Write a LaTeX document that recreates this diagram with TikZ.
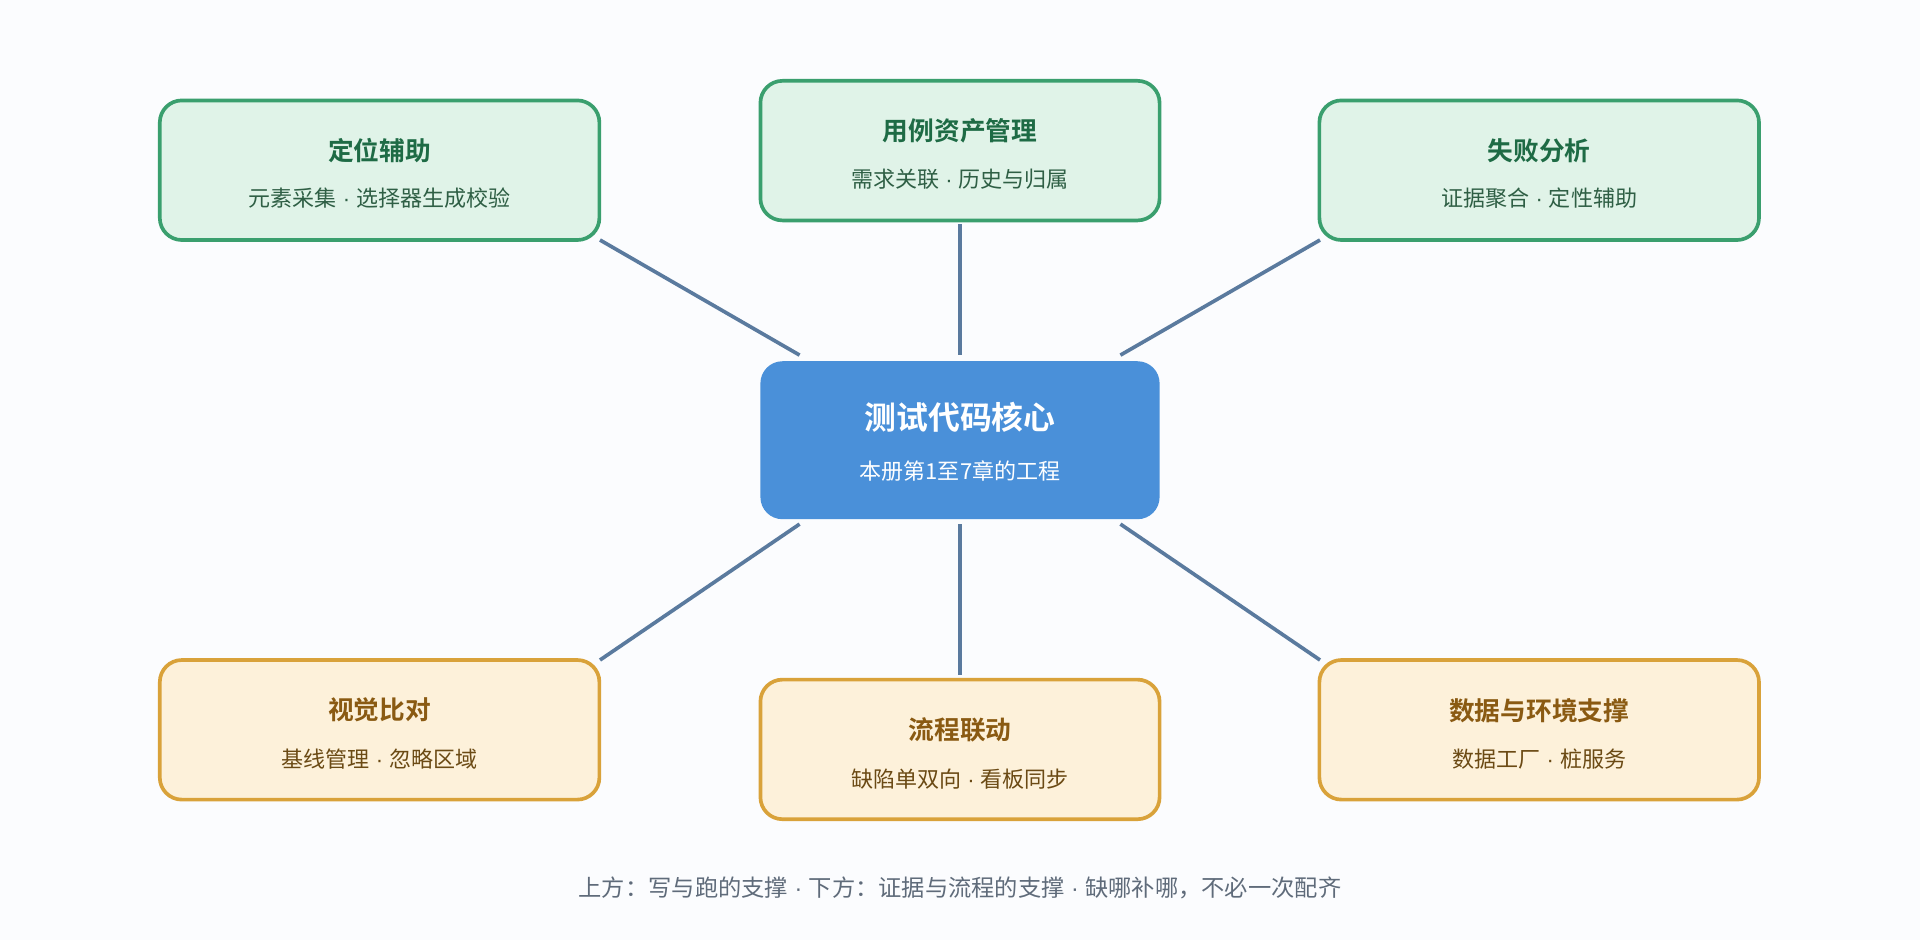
\documentclass[tikz,border=0pt]{standalone}
\usepackage{fontspec}
\setmainfont{Noto Sans CJK SC}[BoldFont={Noto Sans CJK SC Bold}]
\newfontfamily\latf{Liberation Sans}
\newcommand{\sepdot}{{\latf\ ·\ }}
\definecolor{bg}{HTML}{FBFCFE}
\definecolor{gfill}{HTML}{E0F3E8}
\definecolor{gdraw}{HTML}{3A9F6E}
\definecolor{gtitle}{HTML}{1E6B45}
\definecolor{gsub}{HTML}{2F5F45}
\definecolor{ofill}{HTML}{FDF1DA}
\definecolor{odraw}{HTML}{D9A23A}
\definecolor{otitle}{HTML}{8A5A12}
\definecolor{osub}{HTML}{6B4A14}
\definecolor{cfill}{HTML}{4A90D9}
\definecolor{link}{HTML}{5A7A9E}
\definecolor{capc}{HTML}{5F6B7A}
\begin{document}
\begin{tikzpicture}[x=0.5pt,y=-0.5pt,
  box/.style={rounded corners=9pt,line width=1.5pt,minimum width=179.5pt,minimum height=57pt,align=center,inner sep=0pt},
  mid/.style={minimum width=163pt},
  green/.style={box,fill=gfill,draw=gdraw},
  orange/.style={box,fill=ofill,draw=odraw},
  ttl/.style={font=\bfseries\fontsize{10.5}{12}\selectfont},
  sub/.style={font=\fontsize{9}{10}\selectfont},
  conn/.style={draw=link,line width=1.5pt}]
\fill[bg] (0,0) rectangle (1568,768);
\useasboundingbox (0,0) rectangle (1568,768);
\node[green] (tl) at (310,139) {};
\node[ttl,text=gtitle] (tlt) at (310,123) {定位辅助};
\node[sub,text=gsub] (tls) at (310,162) {元素采集\sepdot 选择器生成校验};
\node[green,mid] (tc) at (784,123) {};
\node[ttl,text=gtitle] (tct) at (784,107) {用例资产管理};
\node[sub,text=gsub] (tcs) at (784,146) {需求关联\sepdot 历史与归属};
\node[green] (tr) at (1257,139) {};
\node[ttl,text=gtitle] (trt) at (1257,123) {失败分析};
\node[sub,text=gsub] (trs) at (1257,162) {证据聚合\sepdot 定性辅助};
\node[box,mid,draw=none,fill=cfill,minimum height=64.5pt] (c) at (784,359.5) {};
\node[font=\bfseries\fontsize{13}{14}\selectfont,text=white] (ct) at (784,341) {测试代码核心};
\node[sub,text=white] (cs) at (784,385) {本册第1至7章的工程};
\node[orange] (bl) at (310,596) {};
\node[ttl,text=otitle] (blt) at (310,580) {视觉比对};
\node[sub,text=osub] (bls) at (310,620) {基线管理\sepdot 忽略区域};
\node[orange,mid] (bc) at (784,612) {};
\node[ttl,text=otitle] (bct) at (784,596) {流程联动};
\node[sub,text=osub] (bcs) at (784,636) {缺陷单双向\sepdot 看板同步};
\node[orange] (br) at (1257,596) {};
\node[ttl,text=otitle] (brt) at (1257,580) {数据与环境支撑};
\node[sub,text=osub] (brs) at (1257,620) {数据工厂\sepdot 桩服务};
\node[font=\fontsize{9.5}{11}\selectfont,text=capc] (capt) at (784,725) {上方：写与跑的支撑\sepdot 下方：证据与流程的支撑\sepdot 缺哪补哪，不必一次配齐};
\coordinate (c1) at (653,290); \coordinate (c2) at (784,290); \coordinate (c3) at (915,290);
\coordinate (c4) at (653,428); \coordinate (c5) at (784,428); \coordinate (c6) at (915,428);
\coordinate (e1) at (490,196); \coordinate (e2) at (784,183); \coordinate (e3) at (1078,196);
\coordinate (e4) at (490,539); \coordinate (e5) at (784,551); \coordinate (e6) at (1078,539);
\draw[conn] (e1) -- (c1); \draw[conn] (e2) -- (c2); \draw[conn] (e3) -- (c3);
\draw[conn] (c4) -- (e4); \draw[conn] (c5) -- (e5); \draw[conn] (c6) -- (e6);
\end{tikzpicture}
\end{document}
